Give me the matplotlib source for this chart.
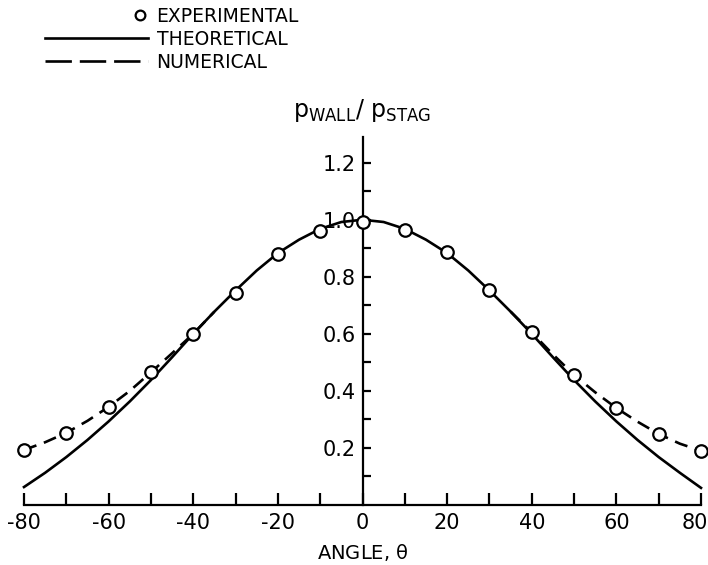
import numpy as np
import matplotlib
matplotlib.use('Agg')
import matplotlib.pyplot as plt
import matplotlib.transforms as mtransforms
from matplotlib.lines import Line2D
from matplotlib.legend_handler import HandlerLine2D

plt.rcParams['font.family'] = ['DejaVu Sans']

# experimental points
exp_angle = [-80, -70, -60, -50, -40, -30, -20, -10, 0, 10, 20, 30, 40, 50, 60, 70, 80]
exp_p = [0.193, 0.253, 0.344, 0.467, 0.60, 0.744, 0.88, 0.961, 0.993,
         0.965, 0.888, 0.754, 0.607, 0.456, 0.34, 0.249, 0.19]

# theoretical curve
th_angle = [-80, -75, -70, -65, -60, -55, -50, -45, -40, -35, -30, -25, -20, -15, -10, -5, 0,
            5, 10, 15, 20, 25, 30, 35, 40, 45, 50, 55, 60, 65, 70, 75, 80]
th_p = [0.063, 0.113, 0.168, 0.228, 0.293, 0.363, 0.438, 0.518, 0.60, 0.678, 0.752, 0.822,
        0.883, 0.93, 0.968, 0.992, 1.0,
        0.992, 0.968, 0.93, 0.883, 0.822, 0.752, 0.678, 0.60, 0.518, 0.438, 0.363, 0.293,
        0.228, 0.168, 0.113, 0.06]

# numerical curve (outer parts; merges with theory in the middle)
num_left_angle = [-80, -75, -70, -65, -60, -55, -50, -45, -40, -35]
num_left_p = [0.193, 0.22, 0.253, 0.295, 0.344, 0.40, 0.465, 0.532, 0.60, 0.678]
num_right_angle = [35, 40, 45, 50, 55, 60, 65, 70, 75, 80]
num_right_p = [0.678, 0.605, 0.528, 0.456, 0.395, 0.34, 0.292, 0.249, 0.215, 0.19]

x_major = [-80, -60, -40, -20, 0, 20, 40, 60, 80]
x_minor = [-70, -50, -30, -10, 10, 30, 50, 70]
y_major = [0.2, 0.4, 0.6, 0.8, 1.0, 1.2]
y_minor = [0.1, 0.3, 0.5, 0.7, 0.9, 1.1]

fig = plt.figure(figsize=(7.08, 5.65), dpi=100)
ax = fig.add_axes([24/708, 1 - 505/565, 677/708, 368/565])

ax.plot(th_angle, th_p, '-', color='black', linewidth=1.9, clip_on=False)
ax.plot(num_left_angle, num_left_p, '--', color='black', linewidth=1.9,
        dashes=(5, 3), clip_on=False)
ax.plot(num_right_angle, num_right_p, '--', color='black', linewidth=1.9,
        dashes=(5, 3), clip_on=False)
ax.plot(exp_angle, exp_p, 'o', color='black', markerfacecolor='white',
        markeredgewidth=1.6, markersize=9, linestyle='none', clip_on=False, zorder=5)

ax.set_xlim(-80, 80)
ax.set_ylim(0, 1.29)

for s in ['top', 'right']:
    ax.spines[s].set_visible(False)
ax.spines['left'].set_position(('data', 0))
ax.spines['left'].set_linewidth(1.6)
ax.spines['bottom'].set_linewidth(1.6)

ax.set_xticks(x_major)
ax.set_xticks(x_minor, minor=True)
ax.set_xticklabels([str(v) for v in x_major])
ax.set_yticks(y_major)
ax.set_yticks(y_minor, minor=True)
ax.set_yticklabels(['%.1f' % v for v in y_major])

ax.tick_params(axis='x', which='both', direction='in', length=9, width=1.6,
               labelsize=15, pad=6)
ax.tick_params(axis='y', which='both', direction='in', length=6, width=1.6,
               labelsize=15, pad=5)

ax.set_xlabel(r'ANGLE, $\mathregular{\theta}$', fontsize=14, labelpad=6)
ax.text(0, 1.36, r'$\mathregular{p_{WALL}/\ p_{STAG}}$', fontsize=17,
        ha='center', va='baseline')


class RightMarker(HandlerLine2D):
    def get_xdata(self, legend, xdescent, ydescent, width, height, fontsize):
        m = width - xdescent - 0.45 * fontsize
        return np.array([m - 1, m + 1]), np.array([m])


h_exp = Line2D([], [], marker='o', color='black', markerfacecolor='white',
               markeredgewidth=1.6, markersize=7, linestyle='none')
h_th = Line2D([], [], color='black', linewidth=1.9)
h_num = Line2D([], [], color='black', linewidth=1.9, dashes=(10, 3))
leg = ax.legend([h_exp, h_th, h_num], ['EXPERIMENTAL', 'THEORETICAL', 'NUMERICAL'],
                handler_map={h_exp: RightMarker(numpoints=1)},
                loc='upper left', bbox_to_anchor=(45/708, 1 - 7/565),
                bbox_transform=fig.transFigure, frameon=False, fontsize=13.5,
                handlelength=5.5, handletextpad=0.45, labelspacing=0.2, borderpad=0,
                borderaxespad=0)

fig.canvas.draw()
# shift the "80" label a little left so it stays in the picture
lbl80 = ax.get_xticklabels()[-1]
lbl80.set_transform(lbl80.get_transform()
                    + mtransforms.ScaledTranslation(-6/100, 0, fig.dpi_scale_trans))

fig.savefig('out.png', dpi=100)
